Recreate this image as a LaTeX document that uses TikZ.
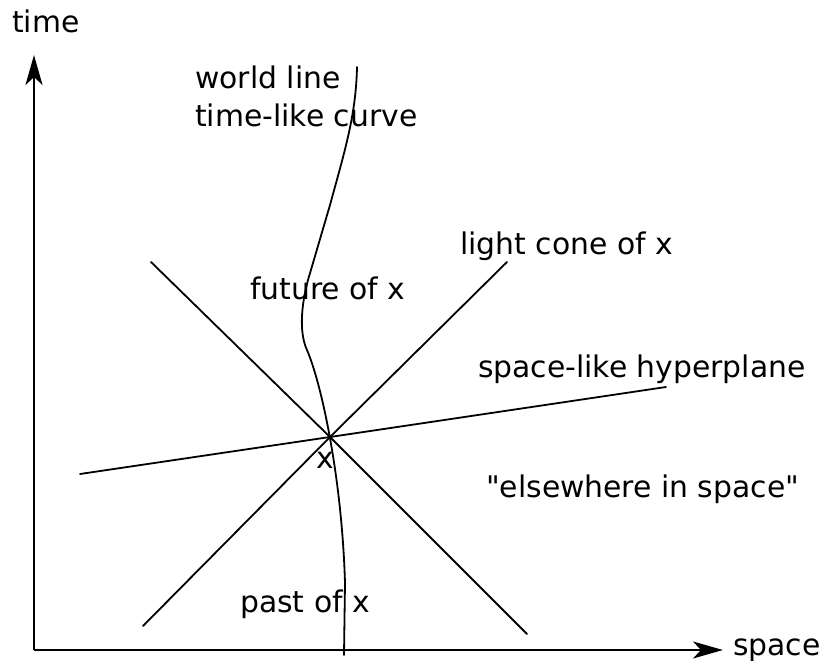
\documentclass[tikz,border=0pt]{standalone}
\usepackage{fontspec}
\setmainfont{DejaVu Sans}[Ligatures=TeXOff]
\usetikzlibrary{arrows.meta}
\begin{document}
\begin{tikzpicture}[x=1pt,y=-1pt,
  ln/.style={line width=1.8pt, line cap=round},
  axis/.style={line width=1.8pt, -{Stealth[length=30pt,width=17pt,inset=8pt]}},
  lbl/.style={anchor=base west, inner sep=0pt, font=\fontsize{29.8}{36}\selectfont}]
\useasboundingbox (0,0) rectangle (823,661);
% axes
\coordinate (O) at (34,650);
\coordinate (T) at (34,55);
\coordinate (S) at (723,650);
\draw[axis] (O) -- (T);
\draw[axis] (O) -- (S);
\node[lbl] (time) at (12,33) {time};
\node[lbl] (space) at (733,655) {space};
% event x
\coordinate (X) at (330,437);
\coordinate (A1) at (151,262);
\coordinate (A2) at (527,634);
\coordinate (B1) at (143,626);
\coordinate (B2) at (507,262);
\coordinate (H1) at (80,474);
\coordinate (H2) at (666,387);
\draw[ln] (A1) -- (X) -- (A2);
\draw[ln] (B1) -- (X) -- (B2);
\draw[ln] (H1) -- (X) -- (H2);
% world line
\coordinate (W0) at (357,67);
\coordinate (W1) at (330,205);
\coordinate (W2) at (308,280);
\coordinate (W3) at (307,350);
\coordinate (W4) at (345,583);
\coordinate (W5) at (344,655);
\draw[ln] (W0) .. controls (356,115) and (345,150) .. (W1) -- (W2)
  .. controls (300,310) and (300,335) .. (W3)
  .. controls (322,385) and (342,480) .. (W4) -- (W5);
% labels
\node[lbl] (wl) at (195,89) {world line};
\node[lbl] (tl) at (195,127) {time-like curve};
\node[lbl] (fut) at (250,299) {future of x};
\node[lbl] (lc) at (460,254) {light cone of x};
\node[lbl] (sh) at (478,377) {space-like hyperplane};
\node[lbl] (else) at (486,497) {"elsewhere in space"};
\node[lbl] (past) at (240,612) {past of x};
\node[lbl] (xl) at (316,468) {x};
\end{tikzpicture}
\end{document}
